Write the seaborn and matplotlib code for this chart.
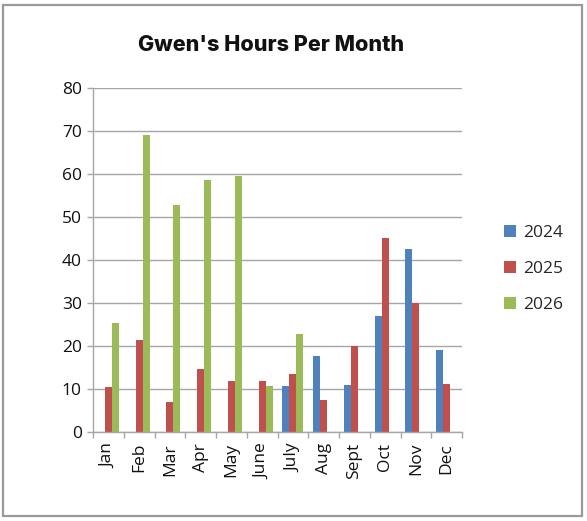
import matplotlib
matplotlib.use("Agg")
import matplotlib.pyplot as plt
import seaborn as sns
import pandas as pd
from matplotlib.patches import Rectangle, Patch

months = ["Jan", "Feb", "Mar", "Apr", "May", "June", "July", "Aug", "Sept", "Oct", "Nov", "Dec"]
years = ["2024", "2025", "2026"]
hours_2024 = [0, 0, 0, 0, 0, 0, 10.6, 17.7, 11.0, 27.0, 42.6, 19.0]
hours_2025 = [10.4, 21.4, 6.9, 14.6, 11.8, 11.8, 13.4, 7.5, 20.0, 45.1, 30.0, 11.2]
hours_2026 = [25.4, 69.1, 52.7, 58.7, 59.5, 10.7, 22.9, 0, 0, 0, 0, 0]
colors = ["#4F81BD", "#C0504D", "#9BBB59"]
yticks = [0, 10, 20, 30, 40, 50, 60, 70, 80]

rows = []
for yr, vals in zip(years, [hours_2024, hours_2025, hours_2026]):
    for m, v in zip(months, vals):
        rows.append({"Month": m, "Year": yr, "Hours": v})
df = pd.DataFrame(rows)

sns.set_theme(style="white")
plt.rcParams["font.family"] = ["Open Sans", "DejaVu Sans"]

W, H = 587, 521
fig = plt.figure(figsize=(W / 100, H / 100), dpi=100)
fig.patch.set_facecolor("white")

# chart frame
fig.patches.append(Rectangle((3 / W, (H - 516) / H), (582 - 3) / W, (516 - 4.5) / H,
                             transform=fig.transFigure, fill=False,
                             edgecolor="#9A9A9A", linewidth=1.6))

ax = fig.add_axes([93 / W, (H - 432) / H, (462 - 93) / W, (432 - 88) / H])
sns.barplot(data=df, x="Month", y="Hours", hue="Year", hue_order=years,
            order=months, palette=colors, width=0.68, gap=0, ax=ax,
            saturation=1, linewidth=0, errorbar=None, legend=False)

ax.set_ylim(0, 80)
ax.set_xlim(-0.5, 11.5)
ax.set_yticks(yticks)
ax.set_yticklabels([str(t) for t in yticks], fontsize=12.5, color="#111111")
ax.yaxis.grid(True, color="#A6A6A6", linewidth=1)
ax.set_axisbelow(True)
ax.set_xlabel("")
ax.set_ylabel("")

for s in ["top", "right"]:
    ax.spines[s].set_visible(False)
for s in ["left", "bottom"]:
    ax.spines[s].set_color("#A6A6A6")
    ax.spines[s].set_linewidth(1)

ax.tick_params(axis="y", which="major", left=True, length=4, width=1,
               color="#A6A6A6", pad=4)
ax.set_xticks(range(len(months)))
ax.set_xticklabels(months, rotation=90, fontsize=12.5, color="#111111")
ax.tick_params(axis="x", which="major", bottom=True, length=0, pad=8)
ax.set_xticks([i - 0.5 for i in range(len(months) + 1)], minor=True)
ax.tick_params(axis="x", which="minor", bottom=True, length=4, width=1,
               color="#A6A6A6")

handles = [Patch(facecolor=c, edgecolor="none") for c in colors]
fig.legend(handles, years, loc="center left",
           bbox_to_anchor=(488 / W, (H - 269) / H), frameon=False,
           fontsize=12.5, handlelength=0.7, handleheight=0.7,
           handletextpad=0.4, labelspacing=1.15)

fig.text(271 / W, (H - 45) / H, "Gwen's Hours Per Month", ha="center",
         va="center", fontsize=15.5, fontweight="heavy", family=["Inter", "DejaVu Sans"],
         color="#111111")

fig.savefig("out.png", dpi=100, facecolor="white")
